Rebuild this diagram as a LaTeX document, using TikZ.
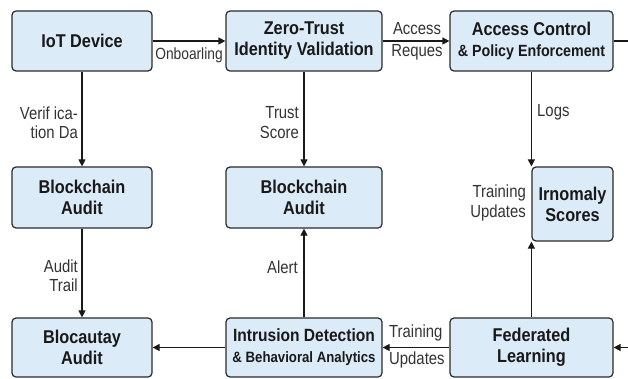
\documentclass[tikz,border=0pt]{standalone}
\usepackage{fontspec}
\setmainfont{Liberation Sans}[FakeStretch=0.88]
\newfontfamily\lblfont{Liberation Sans}[FakeStretch=0.85]
\usetikzlibrary{arrows.meta,calc}
\definecolor{boxfill}{HTML}{DCEBF8}
\definecolor{boxline}{HTML}{2A2A2A}
\definecolor{labeltext}{HTML}{333333}
\begin{document}
\begin{tikzpicture}[x=1pt,y=-1pt,
  box/.style={draw=boxline, line width=1.2pt, rounded corners=4pt, fill=boxfill,
    align=center, inner sep=0pt, text=black!90,
    font=\bfseries\fontsize{18.5}{21}\selectfont},
  lbl/.style={text=labeltext, inner sep=0pt, font=\lblfont\fontsize{17.5}{19.5}\selectfont},
  arr/.style={draw=black!90, line width=1.2pt, -{Triangle[length=7pt,width=7pt]}},
  con/.style={draw=black!90, line width=1.2pt}]
\useasboundingbox[fill=white] (0,0) rectangle (628,379);

% top row
\node[box, minimum width=140pt, minimum height=60pt] (iot) at (82,41) {IoT Device};
\node[box, minimum width=156pt, minimum height=60pt] (zt) at (304,41) {Zero-Trust\\Identity Validation};
\node[box, minimum width=163pt, minimum height=60pt] (ac) at (531.5,41)
  {Access Control\\{\fontsize{16.2}{21}\selectfont \& Policy Enforcement}};

% middle row
\node[box, minimum width=140pt, minimum height=61pt] (bc1) at (82,197.5) {Blockchain\\Audit};
\node[box, minimum width=156pt, minimum height=61pt] (bc2) at (304,197.5) {Blockchain\\Audit};
\node[box, minimum width=81pt, minimum height=74pt] (irn) at (572.5,204) {Irnomaly\\Scores};

% bottom row
\node[box, minimum width=140pt, minimum height=59pt] (bc3) at (82,347.5) {Blocautay\\Audit};
\node[box, minimum width=156pt, minimum height=59pt] (ids) at (304,347.5)
  {\fontsize{17.7}{21}\selectfont Intrusion Detection\\{\fontsize{15}{21}\selectfont \& Behavioral Analytics}};
\node[box, minimum width=163pt, minimum height=59pt] (fl) at (531.5,347.5) {Federated\\Learning};

% loose ends at the right border
\coordinate (rout) at (628,41);
\coordinate (rin) at (628,347.5);

% connectors
\draw[arr] (iot.east) -- (zt.west);
\draw[arr] (zt.east) -- (ac.west);
\draw[con] (ac.east) -- (rout);
\draw[arr] (iot.south) -- (bc1.north);
\draw[arr] (zt.south -| bc2.north) -- (bc2.north);
\draw[arr] (irn.north west |- ac.south) -- (irn.north west);
\draw[arr] (bc1.south) -- (bc3.north);
\draw[arr] (ids.north) -- (bc2.south);
\draw[arr] (irn.south west |- fl.north) -- (irn.south west);
\draw[arr] (fl.west) -- (ids.east);
\draw[arr] (ids.west) -- (bc3.east);
\draw[arr] (rin) -- (fl.east);

% connector labels
\node[lbl, font=\lblfont\fontsize{16.2}{19.5}\selectfont] (l1) at (189,55) {Onboarling};
\node[lbl] (l2) at (417,29) {Access};
\node[lbl] (l3) at (417,52) {Reques};
\node[lbl, anchor=east, align=right] (l4) at (78,122.5) {Verif ica-\\tion Da};
\node[lbl, anchor=east, align=right] (l5) at (299,122.5) {Trust\\Score};
\node[lbl, anchor=west] (l6) at (537,112) {Logs};
\node[lbl, anchor=east, align=right] (l7) at (526,203) {Training\\Updates};
\node[lbl, anchor=east, align=right] (l8) at (78,275.5) {Audit\\Trail};
\node[lbl, anchor=east] (l9) at (298,267) {Alert};
\node[lbl, anchor=west] (l10) at (389,333) {Training};
\node[lbl, anchor=west] (l11) at (389,360) {Updates};
\end{tikzpicture}
\end{document}
